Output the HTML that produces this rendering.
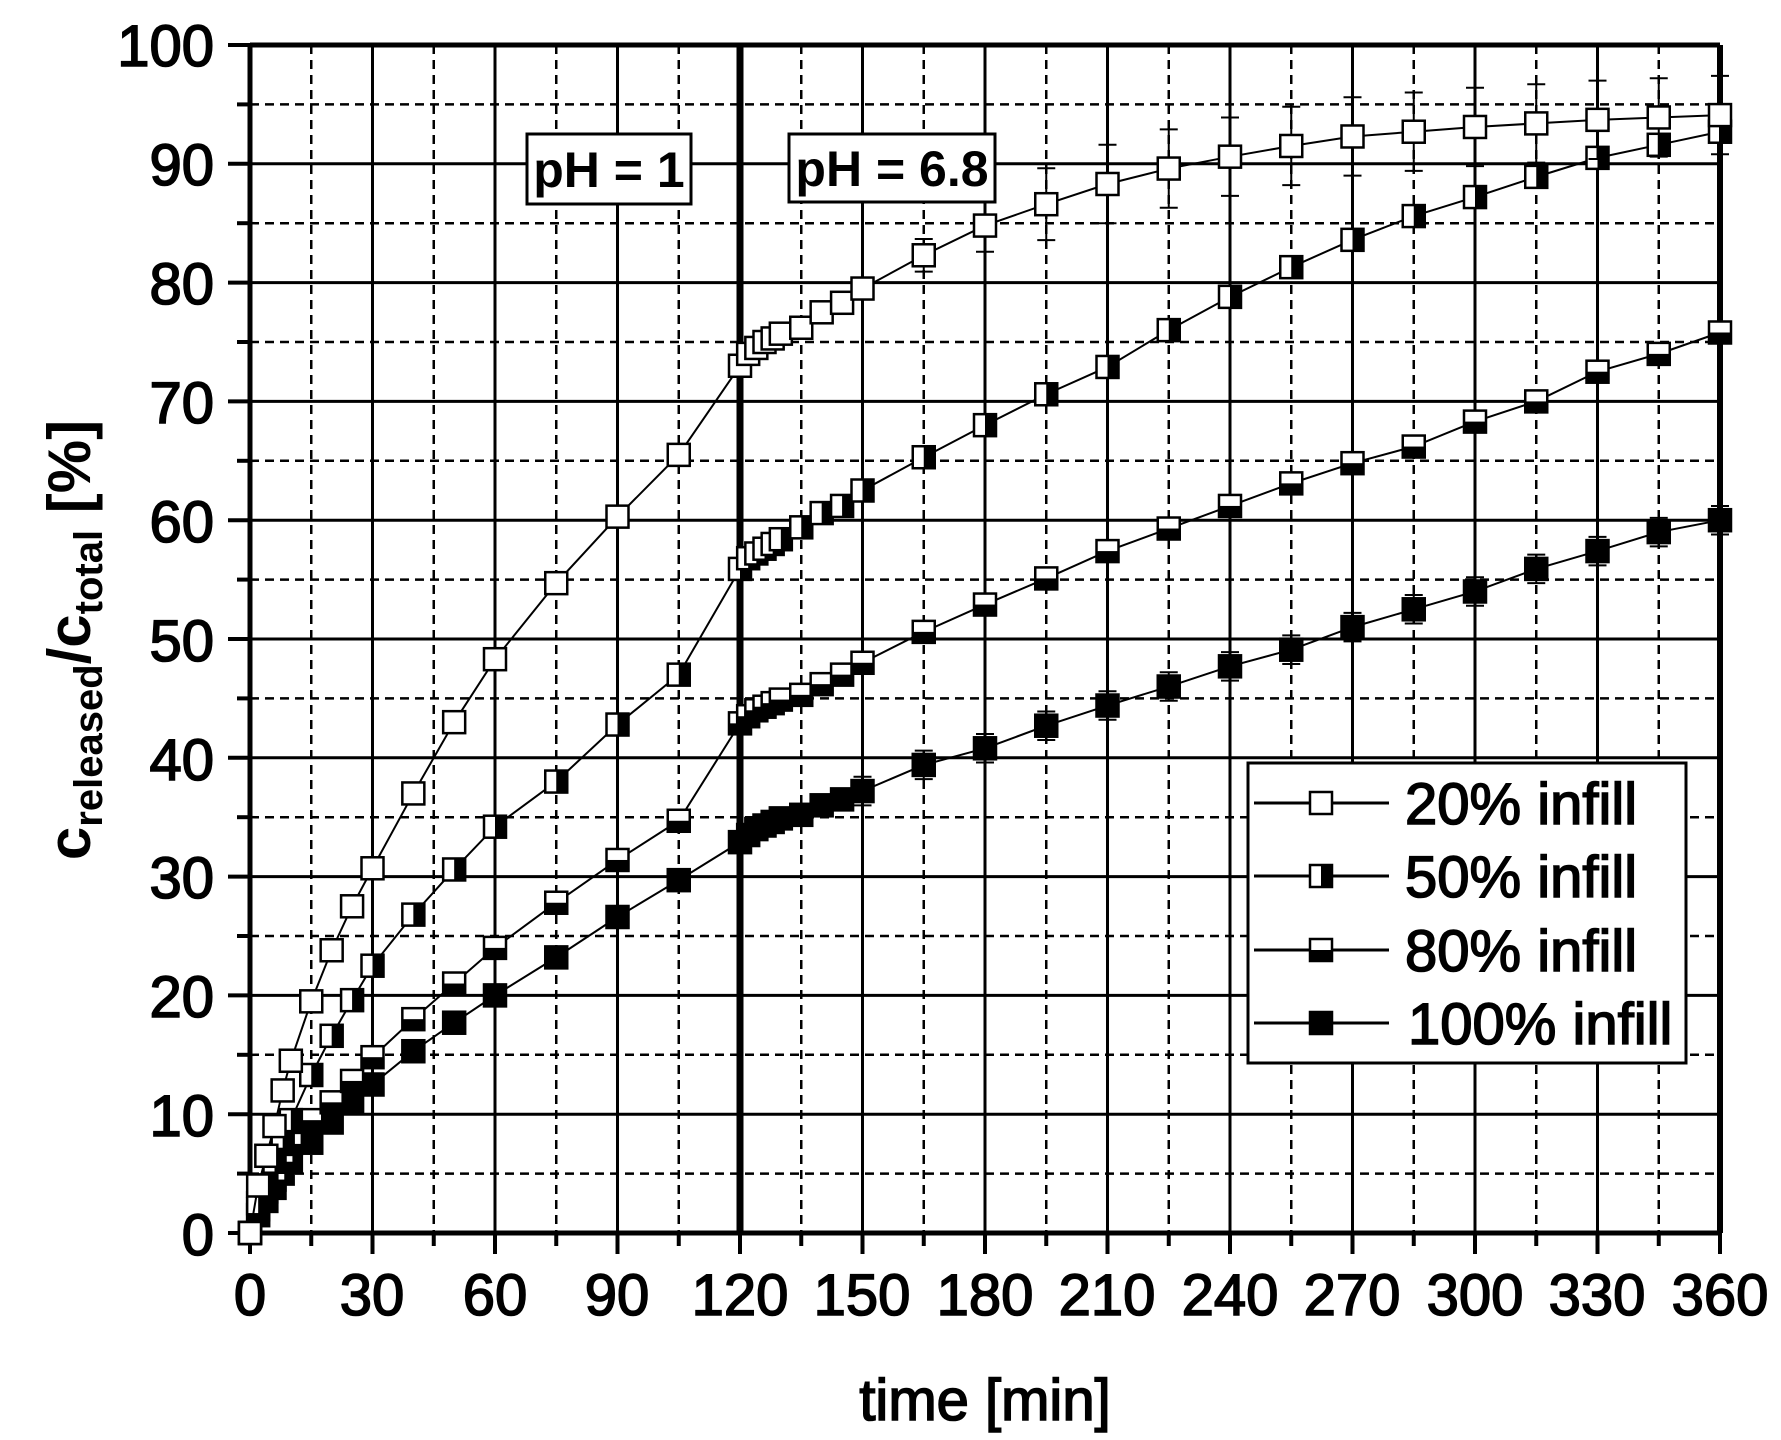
<!DOCTYPE html>
<html><head><meta charset="utf-8"><style>
html,body{margin:0;padding:0;background:#fff;}
svg{display:block;font-family:"Liberation Sans",Arial,sans-serif;}
.t{stroke:#000;stroke-width:1.6px;}
</style></head><body>
<svg id="s" width="1781" height="1440" viewBox="0 0 1781 1440" xmlns="http://www.w3.org/2000/svg">
<rect width="1781" height="1440" fill="#fff"/>
<g id="grid"></g>
<g id="data"></g>
<!-- pH boxes -->
<rect x="527" y="134" width="164" height="70" fill="#fff" stroke="#000" stroke-width="3"/>
<text x="609" y="187" font-size="50" font-weight="bold" text-anchor="middle">pH = 1</text>
<rect x="789" y="134" width="206" height="68" fill="#fff" stroke="#000" stroke-width="3"/>
<text x="892" y="186" font-size="50" font-weight="bold" text-anchor="middle">pH = 6.8</text>
<!-- legend -->
<rect x="1248" y="763" width="438" height="300" fill="#fff" stroke="#000" stroke-width="3"/>
<g id="leg"></g>
<g font-size="58" class="t">
<text x="1405" y="824">20% infill</text>
<text x="1405" y="897">50% infill</text>
<text x="1405" y="971">80% infill</text>
<text x="1408" y="1044">100% infill</text>
</g>
<!-- tick labels -->
<g font-size="58" text-anchor="end" class="t">
<text x="214" y="66">100</text><text x="214" y="185">90</text><text x="214" y="304">80</text>
<text x="214" y="423">70</text><text x="214" y="542">60</text><text x="214" y="661">50</text>
<text x="214" y="780">40</text><text x="214" y="898">30</text><text x="214" y="1017">20</text>
<text x="214" y="1136">10</text><text x="214" y="1255">0</text>
</g>
<g font-size="58" text-anchor="middle" class="t">
<text x="250" y="1315">0</text><text x="372" y="1315">30</text><text x="495" y="1315">60</text>
<text x="617" y="1315">90</text><text x="740" y="1315">120</text><text x="862" y="1315">150</text>
<text x="985" y="1315">180</text><text x="1107" y="1315">210</text><text x="1230" y="1315">240</text>
<text x="1352" y="1315">270</text><text x="1475" y="1315">300</text><text x="1597" y="1315">330</text>
<text x="1720" y="1315">360</text>
</g>
<text x="985" y="1420" font-size="58" text-anchor="middle" class="t">time [min]</text>
<text transform="translate(90,640) rotate(-90)" font-size="60" font-weight="bold" text-anchor="middle">c<tspan font-size="40" dy="12">released</tspan><tspan dy="-12">/c</tspan><tspan font-size="40" dy="12">total</tspan><tspan dy="-12"> [%]</tspan></text>
</svg>
<script>
var NS="http://www.w3.org/2000/svg";
function X(t){return 250+t*1470/360;}
function Y(v){return 1233-v*11.88;}
function el(p,n,a){var e=document.createElementNS(NS,n);for(var k in a)e.setAttribute(k,a[k]);p.appendChild(e);return e;}
var g=document.getElementById('grid');
for(var t=0;t<=360;t+=15){var x=X(t),maj=t%30==0;
 el(g,'line',{x1:x,y1:45,x2:x,y2:1233,stroke:'#000','stroke-width':maj?3:2.5,'stroke-dasharray':maj?'':'9,6'});
 el(g,'line',{x1:x,y1:1233,x2:x,y2:maj?1254:1246,stroke:'#000','stroke-width':4});}
for(var v=0;v<=100;v+=5){var y=Y(v),maj=v%10==0;
 el(g,'line',{x1:250,y1:y,x2:1720,y2:y,stroke:'#000','stroke-width':maj?3:2.5,'stroke-dasharray':maj?'':'9,6'});
 el(g,'line',{x1:maj?228:237,y1:y,x2:250,y2:y,stroke:'#000','stroke-width':4});}
el(g,'line',{x1:250,y1:45,x2:1720,y2:45,stroke:'#000','stroke-width':5});
el(g,'line',{x1:250,y1:1233,x2:1720,y2:1233,stroke:'#000','stroke-width':5});
el(g,'line',{x1:250,y1:45,x2:250,y2:1233,stroke:'#000','stroke-width':5});
el(g,'line',{x1:1720,y1:45,x2:1720,y2:1233,stroke:'#000','stroke-width':6});
el(g,'line',{x1:740,y1:45,x2:740,y2:1233,stroke:'#000','stroke-width':7});
var T=[0,2,4,6,8,10,15,20,25,30,40,50,60,75,90,105,120,122,124,126,128,130,135,140,145,150,165,180,195,210,225,240,255,270,285,300,315,330,345,360];
var S=[
[0,4,6.5,9,12,14.5,19.5,23.8,27.5,30.7,37,43,48.3,54.7,60.3,65.5,73,74,74.5,75,75.3,75.7,76.2,77.5,78.3,79.5,82.3,84.8,86.6,88.3,89.6,90.6,91.5,92.3,92.7,93.1,93.4,93.7,93.9,94.1],
[0,2.5,4,6,8,9.5,13.3,16.6,19.6,22.5,26.8,30.6,34.2,38,42.8,47,55.9,56.8,57.2,57.6,58,58.4,59.4,60.6,61.2,62.5,65.3,68,70.6,72.9,76,78.8,81.3,83.6,85.6,87.2,88.9,90.5,91.6,92.7],
[0,2,3.5,4.5,6,7.5,9.5,11,12.8,14.8,18,21,24,27.8,31.4,34.7,42.9,43.5,44,44.3,44.6,44.9,45.3,46.2,47,48,50.6,52.9,55.1,57.4,59.3,61.2,63.1,64.8,66.2,68.3,70,72.5,74,75.8],
[0,1.5,2.7,3.8,5,6,7.6,9.3,11,12.5,15.3,17.7,20,23.2,26.6,29.7,32.9,33.5,34,34.3,34.6,34.9,35.2,36,36.5,37.2,39.4,40.8,42.7,44.4,46,47.7,49.1,51,52.5,54,55.9,57.4,59,60]];
var ERR=[2.2,0.8,0.8,1.2];
function marker(p,cx,cy,k){var h=11;
 el(p,'rect',{x:cx-h,y:cy-h,width:2*h,height:2*h,fill:k==3?'#000':'#fff',stroke:'#000','stroke-width':2.5});
 if(k==1)el(p,'rect',{x:cx,y:cy-h,width:h,height:2*h,fill:'#000'});
 if(k==2)el(p,'rect',{x:cx-h,y:cy,width:2*h,height:h,fill:'#000'});}
var d=document.getElementById('data');
for(var k=3;k>=0;k--){
 var pts=T.map(function(t,i){return X(t)+','+Y(S[k][i]);}).join(' ');
 el(d,'polyline',{points:pts,fill:'none',stroke:'#000','stroke-width':2});
 for(var i=0;i<T.length;i++){var x=X(T[i]),y=Y(S[k][i]);
  if(T[i]>=150){var e=ERR[k]*11.88*(k==0?Math.min(1.5,(T[i]-140)/40):1);
   el(d,'line',{x1:x,y1:y-e,x2:x,y2:y+e,stroke:'#000','stroke-width':2});
   el(d,'line',{x1:x-9,y1:y-e,x2:x+9,y2:y-e,stroke:'#000','stroke-width':2});
   el(d,'line',{x1:x-9,y1:y+e,x2:x+9,y2:y+e,stroke:'#000','stroke-width':2});}
  marker(d,x,y,k);}}
var L=document.getElementById('leg');
[803,876,950,1023].forEach(function(y,k){
 el(L,'line',{x1:1254,y1:y,x2:1389,y2:y,stroke:'#000','stroke-width':3});
 marker(L,1321,y,k);});
</script>
</body></html>
